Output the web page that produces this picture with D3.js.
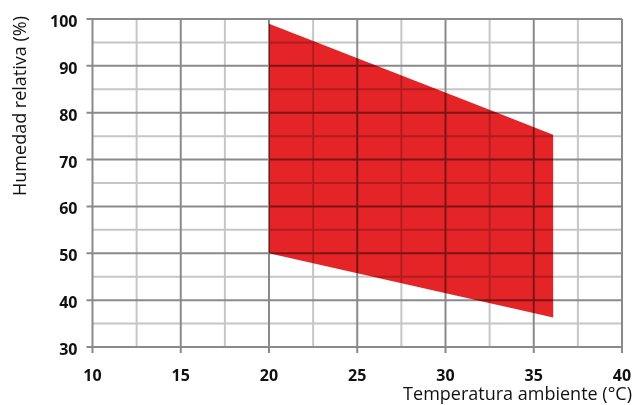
<!DOCTYPE html>
<html>
<head>
<meta charset="utf-8">
<script src="https://cdn.jsdelivr.net/npm/d3@7"></script>
<style>
  body { margin: 0; background: #fff; }
  .tick-label { font-family: "Open Sans", "Liberation Sans", sans-serif; font-weight: bold; font-size: 16px; fill: #111; }
  .axis-title { font-family: "Open Sans", "Liberation Sans", sans-serif; font-size: 18px; fill: #111; }
</style>
</head>
<body>
<svg id="chart" width="635" height="405"></svg>
<script>
// x ticks (temperature, °C) and y ticks (relative humidity, %)
const xTicks = [10, 15, 20, 25, 30, 35, 40];
const yTicks = [30, 40, 50, 60, 70, 80, 90, 100];
const xMinor = [12.5, 17.5, 22.5, 27.5, 32.5, 37.5];
const yMinor = [35, 45, 55, 65, 75, 85, 95];

// operating area polygon
const areaTemp = [20, 36.1, 36.1, 20];
const areaHum = [99, 75.3, 36.3, 50];

const svg = d3.select("#chart");
const margin = { top: 19, right: 13, bottom: 58, left: 92.5 };
const width = +svg.attr("width");
const height = +svg.attr("height");
const innerWidth = width - margin.left - margin.right;
const innerHeight = height - margin.top - margin.bottom;

const xScale = d3.scaleLinear().domain([10, 40]).range([0, innerWidth]);
const yScale = d3.scaleLinear().domain([30, 100]).range([innerHeight, 0]);

const g = svg.append("g").attr("transform", `translate(${margin.left},${margin.top})`);

// red area
const points = areaTemp.map((t, i) => [xScale(t), yScale(areaHum[i])]);
g.append("path")
  .attr("d", d3.line()(points) + "Z")
  .attr("fill", "#e52427");

// grid, multiplied over the fill
const grid = g.append("g").style("mix-blend-mode", "multiply");

grid.selectAll(".minor-x").data(xMinor).enter().append("line")
  .attr("x1", d => xScale(d)).attr("x2", d => xScale(d))
  .attr("y1", 0).attr("y2", innerHeight)
  .attr("stroke", "#c6c6c6").attr("stroke-width", 2);

grid.selectAll(".minor-y").data(yMinor).enter().append("line")
  .attr("y1", d => yScale(d)).attr("y2", d => yScale(d))
  .attr("x1", 0).attr("x2", innerWidth)
  .attr("stroke", "#c6c6c6").attr("stroke-width", 2);

grid.selectAll(".major-x").data(xTicks).enter().append("line")
  .attr("x1", d => xScale(d)).attr("x2", d => xScale(d))
  .attr("y1", 0).attr("y2", innerHeight + 6)
  .attr("stroke", "#8a8a8a").attr("stroke-width", 2);

grid.selectAll(".major-y").data(yTicks).enter().append("line")
  .attr("y1", d => yScale(d)).attr("y2", d => yScale(d))
  .attr("x1", -6).attr("x2", innerWidth)
  .attr("stroke", "#8a8a8a").attr("stroke-width", 2);

// tick labels
g.selectAll(".xl").data(xTicks).enter().append("text")
  .attr("class", "tick-label")
  .attr("x", d => xScale(d))
  .attr("y", innerHeight + 34)
  .attr("text-anchor", "middle")
  .text(d => d);

g.selectAll(".yl").data(yTicks).enter().append("text")
  .attr("class", "tick-label")
  .attr("x", -15)
  .attr("y", d => yScale(d) + 8)
  .attr("text-anchor", "end")
  .text(d => d);

// axis titles
svg.append("text")
  .attr("class", "axis-title")
  .attr("x", 632)
  .attr("y", 400)
  .attr("text-anchor", "end")
  .text("Temperatura ambiente (°C)");

svg.append("text")
  .attr("class", "axis-title")
  .attr("transform", "translate(26,106) rotate(-90)")
  .attr("text-anchor", "middle")
  .text("Humedad relativa (%)");
</script>
</body>
</html>
